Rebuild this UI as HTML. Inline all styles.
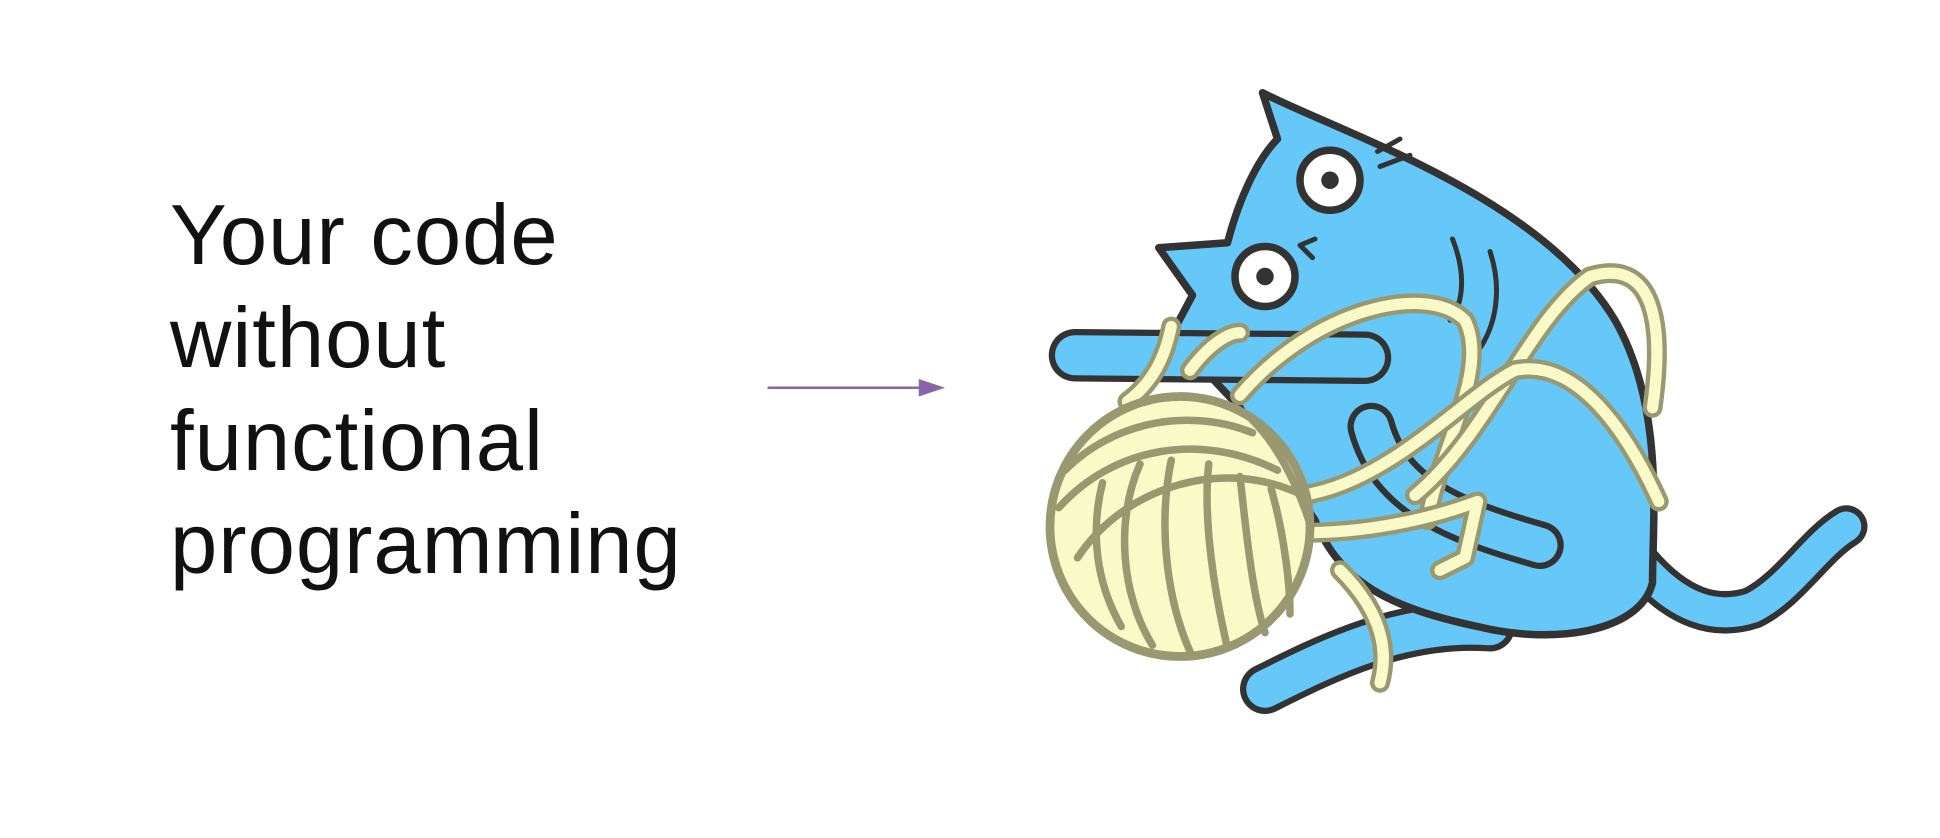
<!DOCTYPE html>
<html><head><meta charset="utf-8"><style>
html,body{margin:0;padding:0;background:#fff;width:1940px;height:838px;overflow:hidden}
.t{position:absolute;left:170px;top:184px;font-family:"Liberation Sans",sans-serif;font-size:85px;line-height:103px;color:#111;font-weight:normal;letter-spacing:1px}
svg{position:absolute;left:0;top:0}
</style></head><body>
<div class="t">Your code<br>without<br>functional<br>programming</div>
<svg width="1940" height="838" viewBox="0 0 1552 670">
<line x1="614" y1="310" x2="739" y2="310" stroke="#8a64a8" stroke-width="2"/>
<polygon points="735,303 756,310 735,317" fill="#8a64a8"/>
<g stroke-linecap="round" stroke-linejoin="round" transform="translate(-8,-4)">
<path d="M1320,455 C1350,490 1380,500 1410,490 C1440,475 1460,440 1485,425" fill="none" stroke="#333" stroke-width="34"/>
<path d="M1320,455 C1350,490 1380,500 1410,490 C1440,475 1460,440 1485,425" fill="none" stroke="#66c8f8" stroke-width="24"/>
<path d="M1200,505 C1130,500 1070,530 1020,555" fill="none" stroke="#333" stroke-width="40"/>
<path d="M1200,505 C1130,500 1070,530 1020,555" fill="none" stroke="#66c8f8" stroke-width="30"/>
<path d="M1018,78 C1080,110 1240,160 1300,260 C1340,330 1330,420 1330,470 C1320,510 1250,520 1190,505 C1120,490 1080,470 1060,420 L1000,330 L945,272 L962,240 L935,202 L990,198 C1000,160 1015,130 1030,115 Z" fill="#66c8f8" stroke="#333" stroke-width="6"/>
<path d="M868,288 L1100,290" fill="none" stroke="#333" stroke-width="42"/>
<path d="M868,288 L1100,290" fill="none" stroke="#66c8f8" stroke-width="32"/>
<path d="M1105,345 C1120,400 1170,420 1240,440" fill="none" stroke="#333" stroke-width="38"/>
<path d="M1105,345 C1120,400 1170,420 1240,440" fill="none" stroke="#66c8f8" stroke-width="28"/>
<circle cx="1072" cy="148" r="24" fill="#fff" stroke="#333" stroke-width="6"/>
<circle cx="1072" cy="148" r="7" fill="#333"/>
<circle cx="1020" cy="225" r="24" fill="#fff" stroke="#333" stroke-width="6"/>
<circle cx="1020" cy="225" r="7" fill="#333"/>
<path d="M1110,125 L1128,115 M1112,137 L1136,128 M1060,195 L1048,200 L1058,210" fill="none" stroke="#333" stroke-width="4"/>
<path d="M1170,195 C1180,220 1180,245 1168,260 M1200,205 C1210,235 1205,265 1190,285" fill="none" stroke="#333" stroke-width="4"/>
<g fill="none">
<path d="M1000,320 C1060,250 1150,230 1180,260 C1200,300 1160,360 1150,420" stroke="#999870" stroke-width="16"/>
<path d="M1000,320 C1060,250 1150,230 1180,260 C1200,300 1160,360 1150,420" stroke="#fafac8" stroke-width="9"/>
<path d="M1140,400 C1200,350 1230,260 1280,225 C1330,210 1340,260 1330,330" stroke="#999870" stroke-width="16"/>
<path d="M1140,400 C1200,350 1230,260 1280,225 C1330,210 1340,260 1330,330" stroke="#fafac8" stroke-width="9"/>
<path d="M1050,400 C1120,390 1180,320 1220,300 C1270,290 1310,350 1335,405" stroke="#999870" stroke-width="16"/>
<path d="M1050,400 C1120,390 1180,320 1220,300 C1270,290 1310,350 1335,405" stroke="#fafac8" stroke-width="9"/>
<path d="M1050,430 C1100,430 1150,420 1190,405 L1180,450 L1160,460" stroke="#999870" stroke-width="16"/>
<path d="M1050,430 C1100,430 1150,420 1190,405 L1180,450 L1160,460" stroke="#fafac8" stroke-width="9"/>
<path d="M1080,460 C1110,490 1120,520 1112,550" stroke="#999870" stroke-width="16"/>
<path d="M1080,460 C1110,490 1120,520 1112,550" stroke="#fafac8" stroke-width="9"/>
<path d="M945,265 C940,290 930,310 910,325 M960,300 C975,280 990,270 1000,270" stroke="#999870" stroke-width="16"/>
<path d="M945,265 C940,290 930,310 910,325 M960,300 C975,280 990,270 1000,270" stroke="#fafac8" stroke-width="9"/>
</g>
<circle cx="952" cy="425" r="104" fill="#fafac8" stroke="#999870" stroke-width="7"/>
<g fill="none" stroke="#999870" stroke-width="6">
<path d="M860,380 C900,340 960,330 1010,350"/>
<path d="M855,410 C900,360 970,350 1030,380"/>
<path d="M870,450 C910,390 990,370 1050,400"/>
<path d="M920,375 C900,420 905,480 930,520"/>
<path d="M945,372 C935,420 940,480 960,525"/>
<path d="M975,375 C970,420 980,480 990,522"/>
<path d="M1000,385 C1005,430 1010,480 1020,510"/>
<path d="M1025,395 C1035,430 1040,470 1040,495"/>
<path d="M890,390 C880,430 885,470 905,505"/>
<path d="M1010,340 C1030,360 1045,390 1055,420"/>
</g>
</g>
</svg>
</body></html>
